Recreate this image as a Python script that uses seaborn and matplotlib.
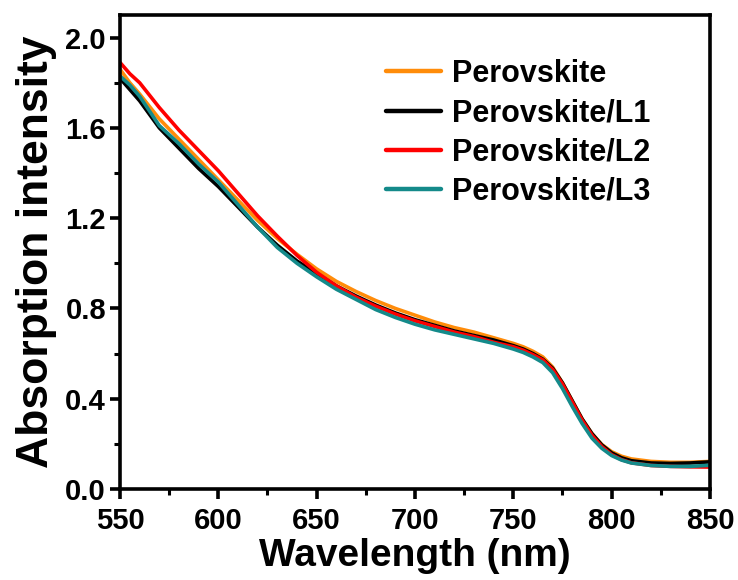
import matplotlib
matplotlib.use("Agg")
import matplotlib.pyplot as plt
import seaborn as sns
import pandas as pd
from matplotlib.ticker import MultipleLocator

wavelength = [550, 555, 560, 570, 580, 590, 600, 610, 620, 630, 640, 650, 660, 670, 680,
              690, 700, 710, 720, 730, 740, 750, 755, 760, 765, 770, 775, 780, 785, 790,
              795, 800, 805, 810, 820, 830, 840, 850]

perovskite = [1.86, 1.80, 1.75, 1.64, 1.55, 1.46, 1.37, 1.28, 1.19, 1.11, 1.04, 0.975, 0.92,
              0.875, 0.835, 0.80, 0.77, 0.74, 0.715, 0.695, 0.67, 0.645, 0.63, 0.61, 0.585,
              0.54, 0.47, 0.39, 0.31, 0.245, 0.197, 0.165, 0.145, 0.133, 0.122, 0.118, 0.118, 0.122]
perovskite_l1 = [1.82, 1.77, 1.72, 1.60, 1.51, 1.42, 1.34, 1.25, 1.16, 1.08, 1.01, 0.955, 0.90,
                 0.855, 0.815, 0.78, 0.75, 0.725, 0.70, 0.68, 0.66, 0.635, 0.62, 0.60, 0.575,
                 0.535, 0.47, 0.39, 0.31, 0.245, 0.195, 0.16, 0.138, 0.125, 0.115, 0.113, 0.115, 0.12]
perovskite_l2 = [1.89, 1.84, 1.80, 1.69, 1.59, 1.50, 1.41, 1.31, 1.21, 1.12, 1.035, 0.96, 0.90,
                 0.85, 0.81, 0.775, 0.745, 0.72, 0.695, 0.675, 0.65, 0.63, 0.615, 0.595, 0.572,
                 0.53, 0.465, 0.385, 0.305, 0.238, 0.188, 0.152, 0.13, 0.116, 0.104, 0.10, 0.098, 0.097]
perovskite_l3 = [1.83, 1.79, 1.74, 1.61, 1.53, 1.44, 1.36, 1.26, 1.16, 1.07, 1.00, 0.94, 0.885,
                 0.84, 0.795, 0.76, 0.73, 0.705, 0.685, 0.665, 0.645, 0.62, 0.605, 0.585, 0.56,
                 0.515, 0.445, 0.365, 0.29, 0.225, 0.18, 0.148, 0.128, 0.115, 0.104, 0.10, 0.10, 0.105]

series_names = ["Perovskite", "Perovskite/L1", "Perovskite/L2", "Perovskite/L3"]
series_values = [perovskite, perovskite_l1, perovskite_l2, perovskite_l3]
colors = ["#FF8C0A", "#000000", "#FF0000", "#148A8A"]

rows = []
for name, vals in zip(series_names, series_values):
    for w, v in zip(wavelength, vals):
        rows.append({"Wavelength": w, "Absorption": v, "Sample": name})
df = pd.DataFrame(rows)

sns.set_style("ticks")
plt.rcParams["font.family"] = ["Liberation Sans", "DejaVu Sans"]
plt.rcParams["font.weight"] = "bold"
plt.rcParams["text.color"] = "black"
plt.rcParams["axes.labelcolor"] = "black"
plt.rcParams["xtick.color"] = "black"
plt.rcParams["ytick.color"] = "black"
plt.rcParams["axes.edgecolor"] = "black"

fig = plt.figure(figsize=(7.38, 5.80), dpi=100)
ax = fig.add_axes([0.1626, 0.157, 0.962 - 0.1626, 0.974 - 0.157])

sns.lineplot(data=df, x="Wavelength", y="Absorption", hue="Sample",
             hue_order=series_names, palette=colors, linewidth=2.6, ax=ax,
             legend=True)

ax.set_xlim(550, 850)
ax.set_ylim(0, 2.1)
ax.xaxis.set_major_locator(MultipleLocator(50))
ax.xaxis.set_minor_locator(MultipleLocator(25))
ax.yaxis.set_major_locator(MultipleLocator(0.4))
ax.yaxis.set_minor_locator(MultipleLocator(0.2))
ax.yaxis.set_major_formatter(matplotlib.ticker.FormatStrFormatter("%.1f"))

for sp in ax.spines.values():
    sp.set_linewidth(2.6)
    sp.set_visible(True)
    sp.set_color("black")
ax.tick_params(which="major", direction="out", length=7, width=2.6,
               labelsize=21, pad=3, colors="black")
ax.tick_params(axis="x", which="major", pad=6)
ax.tick_params(which="minor", direction="out", length=4.5, width=2.2, colors="black")
ax.tick_params(top=False, right=False, which="both")
for lab in ax.get_xticklabels() + ax.get_yticklabels():
    lab.set_fontweight("bold")

ax.set_xlabel("Wavelength (nm)", fontsize=28, fontweight="bold", labelpad=2, color="black")
ax.set_ylabel("Absorption intensity", fontsize=32, fontweight="bold", labelpad=6, color="black")

leg = ax.legend(loc="upper right", bbox_to_anchor=(0.945, 0.965), frameon=False,
                handlelength=1.8, handletextpad=0.35,
                labelspacing=0.3, prop={"weight": "bold", "size": 22})
for line in leg.get_lines():
    line.set_linewidth(3.2)
for t in leg.get_texts():
    t.set_color("black")

fig.savefig("out.png", dpi=100)
